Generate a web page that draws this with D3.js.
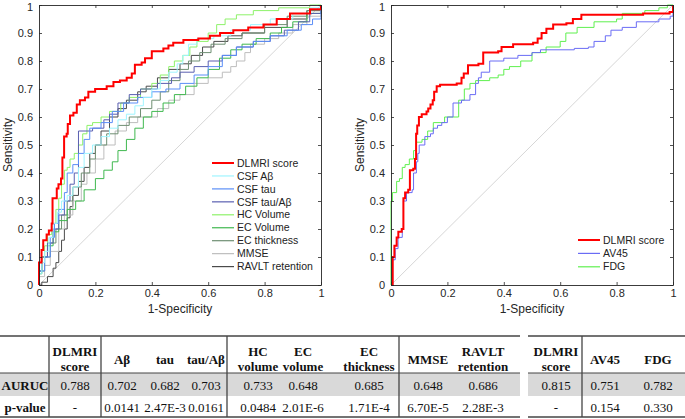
<!DOCTYPE html>
<html><head><meta charset="utf-8">
<script src="https://cdn.jsdelivr.net/npm/d3@7"></script>
<style>body{margin:0;background:#fff}svg{display:block}</style>
</head><body>
<svg id="c" width="685" height="419"></svg>
<script>
// ---------- data: ROC curves as [1-specificity, sensitivity] step vertices ----------
const dlmriLeft = [[0,0],[0,0.08],[0.009,0.125],[0.015,0.16],[0.027,0.18],[0.035,0.195],[0.045,0.22],[0.048,0.31],[0.063,0.345],[0.069,0.36],[0.078,0.38],[0.083,0.455],[0.089,0.53],[0.098,0.54],[0.102,0.575],[0.11,0.605],[0.122,0.615],[0.134,0.645],[0.145,0.66],[0.163,0.67],[0.175,0.69],[0.199,0.70],[0.24,0.71],[0.264,0.725],[0.287,0.73],[0.311,0.74],[0.329,0.755],[0.34,0.787],[0.364,0.795],[0.376,0.81],[0.4,0.835],[0.441,0.845],[0.459,0.855],[0.476,0.865],[0.512,0.875],[0.565,0.88],[0.606,0.89],[0.642,0.9],[0.689,0.91],[0.742,0.92],[0.796,0.93],[0.843,0.95],[0.89,0.97],[0.961,0.985],[1,1]];
const csfAb = [[0,0],[0,0.04],[0.01,0.08],[0.02,0.12],[0.035,0.17],[0.05,0.22],[0.065,0.26],[0.08,0.3],[0.1,0.32],[0.12,0.35],[0.14,0.42],[0.16,0.47],[0.19,0.5],[0.22,0.53],[0.25,0.56],[0.28,0.59],[0.31,0.61],[0.34,0.64],[0.37,0.67],[0.4,0.7],[0.43,0.73],[0.46,0.76],[0.49,0.79],[0.51,0.82],[0.53,0.86],[0.56,0.88],[0.62,0.89],[0.68,0.91],[0.75,0.93],[0.82,0.95],[0.9,0.97],[0.96,0.99],[1,1]];
const csfTau = [[0,0],[0,0.05],[0.02,0.1],[0.04,0.17],[0.055,0.22],[0.07,0.27],[0.09,0.33],[0.1,0.4],[0.12,0.43],[0.14,0.47],[0.16,0.52],[0.18,0.56],[0.22,0.58],[0.26,0.62],[0.3,0.65],[0.35,0.67],[0.4,0.69],[0.45,0.7],[0.5,0.72],[0.55,0.75],[0.6,0.78],[0.65,0.82],[0.7,0.85],[0.76,0.87],[0.82,0.89],[0.88,0.91],[0.93,0.93],[0.97,0.95],[1,1]];
const csfTauAb = [[0,0],[0,0.05],[0.01,0.1],[0.03,0.15],[0.05,0.2],[0.07,0.25],[0.09,0.3],[0.11,0.36],[0.125,0.4],[0.14,0.42],[0.14,0.55],[0.19,0.56],[0.23,0.59],[0.25,0.61],[0.28,0.65],[0.32,0.68],[0.36,0.7],[0.42,0.72],[0.47,0.74],[0.5,0.76],[0.55,0.78],[0.6,0.8],[0.65,0.82],[0.7,0.85],[0.76,0.87],[0.82,0.89],[0.87,0.91],[0.92,0.94],[0.96,0.97],[1,1]];
const hcVolume = [[0,0],[0,0.05],[0.01,0.1],[0.02,0.14],[0.03,0.18],[0.045,0.22],[0.06,0.27],[0.07,0.31],[0.08,0.36],[0.09,0.41],[0.1,0.42],[0.11,0.45],[0.125,0.47],[0.14,0.5],[0.155,0.54],[0.17,0.57],[0.19,0.58],[0.22,0.6],[0.25,0.62],[0.29,0.65],[0.32,0.67],[0.36,0.7],[0.4,0.72],[0.43,0.75],[0.46,0.78],[0.48,0.8],[0.51,0.82],[0.535,0.85],[0.56,0.87],[0.6,0.9],[0.63,0.93],[0.66,0.95],[0.7,0.965],[0.76,0.98],[0.85,0.99],[0.96,1],[1,1]];
const ecVolume = [[0,0],[0,0.04],[0.01,0.1],[0.03,0.14],[0.05,0.19],[0.07,0.23],[0.1,0.27],[0.13,0.3],[0.16,0.34],[0.2,0.38],[0.23,0.41],[0.26,0.44],[0.28,0.48],[0.31,0.52],[0.34,0.56],[0.37,0.6],[0.4,0.62],[0.44,0.65],[0.48,0.68],[0.52,0.71],[0.56,0.74],[0.6,0.77],[0.64,0.81],[0.68,0.84],[0.72,0.86],[0.77,0.88],[0.82,0.9],[0.86,0.92],[0.9,0.94],[0.95,0.97],[1,1]];
const ecThickness = [[0,0],[0,0.05],[0.02,0.1],[0.04,0.15],[0.06,0.2],[0.08,0.25],[0.1,0.3],[0.12,0.35],[0.15,0.4],[0.18,0.45],[0.2,0.5],[0.24,0.54],[0.28,0.57],[0.32,0.6],[0.36,0.63],[0.4,0.66],[0.43,0.69],[0.46,0.73],[0.5,0.77],[0.53,0.8],[0.57,0.83],[0.61,0.86],[0.66,0.88],[0.72,0.9],[0.8,0.93],[0.88,0.96],[0.95,0.98],[1,1]];
const mmse = [[0,0],[0,0.03],[0.02,0.07],[0.04,0.12],[0.07,0.2],[0.09,0.25],[0.12,0.3],[0.15,0.36],[0.17,0.4],[0.2,0.45],[0.23,0.5],[0.27,0.55],[0.31,0.58],[0.35,0.6],[0.42,0.63],[0.46,0.66],[0.5,0.68],[0.55,0.72],[0.6,0.74],[0.65,0.76],[0.68,0.78],[0.7,0.8],[0.73,0.83],[0.75,0.86],[0.8,0.88],[0.85,0.9],[0.9,0.93],[0.95,0.96],[1,1]];
const ravlt = [[0,0],[0.01,0.01],[0.03,0.03],[0.05,0.06],[0.06,0.08],[0.07,0.12],[0.08,0.16],[0.09,0.2],[0.1,0.24],[0.11,0.28],[0.12,0.32],[0.14,0.37],[0.16,0.42],[0.18,0.47],[0.2,0.5],[0.22,0.55],[0.25,0.6],[0.28,0.63],[0.31,0.66],[0.35,0.69],[0.38,0.71],[0.42,0.74],[0.46,0.77],[0.5,0.79],[0.54,0.82],[0.58,0.85],[0.62,0.87],[0.67,0.89],[0.72,0.9],[0.8,0.92],[0.88,0.95],[0.95,0.98],[1,1]];

const dlmriRight = [[0,0],[0.006,0.1],[0.012,0.14],[0.02,0.17],[0.026,0.19],[0.038,0.2],[0.044,0.31],[0.05,0.33],[0.061,0.34],[0.067,0.41],[0.079,0.415],[0.085,0.45],[0.089,0.54],[0.093,0.57],[0.099,0.6],[0.109,0.61],[0.126,0.62],[0.132,0.63],[0.14,0.645],[0.148,0.66],[0.153,0.69],[0.162,0.71],[0.174,0.715],[0.233,0.72],[0.25,0.74],[0.258,0.755],[0.273,0.785],[0.31,0.79],[0.327,0.83],[0.38,0.835],[0.392,0.85],[0.433,0.86],[0.504,0.865],[0.52,0.88],[0.534,0.9],[0.551,0.915],[0.575,0.93],[0.622,0.935],[0.645,0.95],[0.675,0.965],[0.894,0.97],[0.988,0.975],[1,1]];
const av45 = [[0,0],[0.006,0.09],[0.015,0.13],[0.025,0.17],[0.04,0.2],[0.044,0.3],[0.055,0.33],[0.075,0.34],[0.08,0.4],[0.09,0.44],[0.095,0.47],[0.1,0.5],[0.12,0.53],[0.14,0.54],[0.15,0.56],[0.165,0.57],[0.18,0.58],[0.2,0.6],[0.22,0.65],[0.25,0.66],[0.28,0.68],[0.3,0.72],[0.31,0.74],[0.32,0.76],[0.35,0.8],[0.4,0.81],[0.45,0.82],[0.5,0.83],[0.53,0.84],[0.65,0.845],[0.7,0.85],[0.72,0.87],[0.76,0.89],[0.78,0.91],[0.82,0.92],[0.87,0.94],[0.95,0.95],[0.99,0.96],[1,1]];
const fdg = [[0,0],[0,0.3],[0.005,0.33],[0.02,0.37],[0.03,0.38],[0.04,0.42],[0.05,0.43],[0.065,0.45],[0.08,0.48],[0.09,0.51],[0.11,0.52],[0.13,0.55],[0.15,0.58],[0.19,0.6],[0.22,0.6],[0.24,0.66],[0.26,0.7],[0.28,0.72],[0.3,0.73],[0.35,0.74],[0.38,0.75],[0.4,0.77],[0.42,0.78],[0.46,0.8],[0.5,0.83],[0.55,0.85],[0.6,0.87],[0.62,0.9],[0.66,0.92],[0.72,0.94],[0.8,0.95],[0.82,0.97],[0.9,0.98],[0.95,0.99],[0.98,1],[1,1]];

const leftNames = ["DLMRI score","CSF Aβ","CSF tau","CSF tau/Aβ","HC Volume","EC Volume","EC thickness","MMSE","RAVLT retention"];
const leftColors = ["#ff0000","#9ff5ff","#5b8ef7","#5a5fb0","#8ef26a","#3fb84f","#6f8f73","#bdbdbd","#4a4a4a"];
const leftData = [dlmriLeft,csfAb,csfTau,csfTauAb,hcVolume,ecVolume,ecThickness,mmse,ravlt];
const rightNames = ["DLMRI score","AV45","FDG"];
const rightColors = ["#ff0000","#6a6cf5","#5ff04f"];
const rightData = [dlmriRight,av45,fdg];

const xTicks = [0,0.2,0.4,0.6,0.8,1];
const yTicks = [0,0.1,0.2,0.3,0.4,0.5,0.6,0.7,0.8,0.9,1];

// table data
const leftHeaders = [["",""],["DLMRI","score"],["Aβ"],["tau"],["tau/Aβ"],["HC","volume"],["EC","volume"],["EC","thickness"],["MMSE"],["RAVLT","retention"]];
const leftAuruc = ["AURUC","0.788","0.702","0.682","0.703","0.733","0.648","0.685","0.648","0.686"];
const leftPval = ["p-value","-","0.0141","2.47E-3","0.0161","0.0484","2.01E-6","1.71E-4","6.70E-5","2.28E-3"];
const rightHeaders = [["DLMRI","score"],["AV45"],["FDG"]];
const rightAuruc = ["0.815","0.751","0.782"];
const rightPval = ["-","0.154","0.330"];

// ---------- drawing ----------
const svg = d3.select("#c");
const axisColor = "#262626";
const sans = "'Liberation Sans', Arial, sans-serif";

function rocPanel(x0, x1, data, colors, names, legendX, legendY0, legendStep) {
  const top = 5, bottom = 285;
  const x = d3.scaleLinear().domain([0,1]).range([x0,x1]);
  const y = d3.scaleLinear().domain([0,1]).range([bottom,top]);
  const g = svg.append("g");
  g.append("line").attr("x1",x(0)).attr("y1",y(0)).attr("x2",x(1)).attr("y2",y(1))
    .attr("stroke","#cccccc").attr("stroke-width",0.8);
  const line = d3.line().x(d=>x(d[0])).y(d=>y(d[1])).curve(d3.curveStepAfter);
  for (let i = data.length-1; i >= 0; i--) {
    g.append("path").attr("d", line(data[i])).attr("fill","none")
      .attr("stroke", colors[i]).attr("stroke-width", i===0 ? 2 : 1);
  }
  const tl = 3;
  const ax = g.append("g").attr("transform",`translate(0,${bottom})`)
    .call(d3.axisBottom(x).tickValues(xTicks).tickFormat(d3.format("~g")).tickSizeInner(-tl).tickSizeOuter(0).tickPadding(4));
  const axT = g.append("g").attr("transform",`translate(0,${top})`)
    .call(d3.axisTop(x).tickValues(xTicks).tickFormat("").tickSizeInner(-tl).tickSizeOuter(0));
  const ay = g.append("g").attr("transform",`translate(${x0},0)`)
    .call(d3.axisLeft(y).tickValues(yTicks).tickFormat(d3.format("~g")).tickSizeInner(-tl).tickSizeOuter(0).tickPadding(6));
  const ayR = g.append("g").attr("transform",`translate(${x1},0)`)
    .call(d3.axisRight(y).tickValues(yTicks).tickFormat("").tickSizeInner(-tl).tickSizeOuter(0));
  [ax,axT,ay,ayR].forEach(a=>{
    a.select(".domain").attr("stroke",axisColor).attr("stroke-width",0.9);
    a.selectAll(".tick line").attr("stroke",axisColor).attr("stroke-width",0.8);
    a.selectAll("text").attr("fill",axisColor).attr("font-family",sans).attr("font-size",11);
  });
  ay.selectAll(".tick text").filter(d=>d===1).attr("dy","0.5em");
  g.append("text").attr("x",(x0+x1)/2).attr("y",313).attr("text-anchor","middle")
    .attr("font-family",sans).attr("font-size",12).attr("fill",axisColor).text("1-Specificity");
  g.append("text").attr("transform",`translate(${x0-27},${(top+bottom)/2}) rotate(-90)`).attr("text-anchor","middle")
    .attr("font-family",sans).attr("font-size",12).attr("fill",axisColor).text("Sensitivity");
  names.forEach((n,i)=>{
    const ly = legendY0 + i*legendStep;
    g.append("line").attr("x1",legendX).attr("x2",legendX+22).attr("y1",ly).attr("y2",ly)
      .attr("stroke",colors[i]).attr("stroke-width", i===0 ? 2 : 1.2);
    g.append("text").attr("x",legendX+25).attr("y",ly).attr("dy","0.35em")
      .attr("font-family",sans).attr("font-size",10.5).attr("fill","#222").text(n);
  });
}

rocPanel(39, 321, leftData, leftColors, leftNames, 212, 163, 12.95);
rocPanel(391, 673, rightData, rightColors, rightNames, 578, 240, 13.4);

// ---------- tables ----------
const serif = "'Liberation Serif', 'Times New Roman', serif";
const tTop = 336, tHead = 373, tMid = 396, tBot = 417;

function drawTable(xStart, xEnd, centers, seps, headers, rows, firstBold) {
  const g = svg.append("g");
  g.append("rect").attr("x",xStart).attr("y",tHead).attr("width",xEnd-xStart).attr("height",tMid-tHead).attr("fill","#d9d9d9");
  [[tTop,1.6],[tHead,1],[tBot,1.4]].forEach(([yy,w])=>{
    g.append("line").attr("x1",xStart).attr("x2",xEnd).attr("y1",yy).attr("y2",yy).attr("stroke","#444").attr("stroke-width",w);
  });
  seps.forEach(sx=>{
    g.append("line").attr("x1",sx).attr("x2",sx).attr("y1",tTop).attr("y2",tBot).attr("stroke","#444").attr("stroke-width",1.3);
  });
  headers.forEach((h,i)=>{
    const lines = h.filter(s=>s!=="");
    lines.forEach((s,k)=>{
      const yy = lines.length===2 ? 351 + k*15 : 359;
      g.append("text").attr("x",centers[i]).attr("y",yy).attr("dy","0.35em").attr("text-anchor","middle")
        .attr("font-family",serif).attr("font-weight","bold").attr("font-size",13).attr("fill","#111").text(s);
    });
  });
  rows.forEach((r,ri)=>{
    const yy = ri===0 ? 385 : 407;
    r.forEach((s,i)=>{
      g.append("text").attr("x",centers[i]).attr("y",yy).attr("dy","0.35em").attr("text-anchor","middle")
        .attr("font-family",serif).attr("font-weight", (firstBold && i===0) ? "bold" : "normal")
        .attr("font-size",13).attr("fill","#111").text(s);
    });
  });
}

drawTable(0, 520, [25,75,122,165,206,258,303,369,428,483], [49,101,227,399], leftHeaders, [leftAuruc,leftPval], true);
drawTable(528, 685, [556,605,658], [582], rightHeaders, [rightAuruc,rightPval], false);
</script>
</body></html>
